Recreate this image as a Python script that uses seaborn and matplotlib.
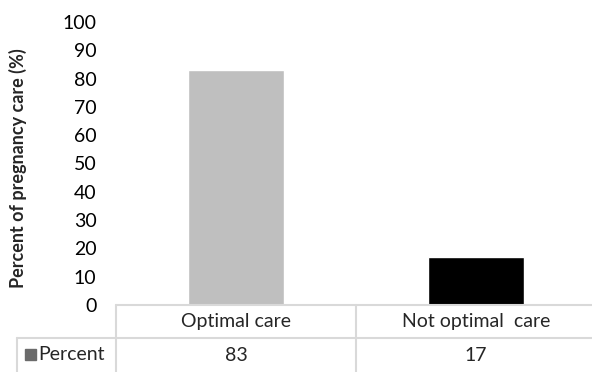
import matplotlib
matplotlib.use("Agg")
import matplotlib.pyplot as plt
from matplotlib.lines import Line2D
from matplotlib.patches import Rectangle
import seaborn as sns
import pandas as pd

# Data
categories = ["Optimal care", "Not optimal  care"]
percent = [83, 17]
bar_colors = ["#BFBFBF", "#000000"]
series_name = "Percent"
y_ticks = [0, 10, 20, 30, 40, 50, 60, 70, 80, 90, 100]

sns.set_theme(style="white")
plt.rcParams["font.family"] = ["Lato", "DejaVu Sans"]

W, H = 592, 372
fig = plt.figure(figsize=(W / 100, H / 100), dpi=100)

# Plot area in pixel units (left, top, right, bottom)
ax_l, ax_t, ax_r, ax_b = 116, 22, 596, 305
ax = fig.add_axes([ax_l / W, 1 - ax_b / H, (ax_r - ax_l) / W, (ax_b - ax_t) / H])

df = pd.DataFrame({"category": categories, "value": percent})
sns.barplot(data=df, x="category", y="value", hue="category",
            palette=bar_colors, width=0.40, legend=False, ax=ax,
            saturation=1)

ax.set_ylim(0, 100)
ax.set_xlim(-0.5, 1.5)
ax.set_yticks(y_ticks)
ax.set_yticklabels([str(t) for t in y_ticks], fontsize=14, color="#000000")
ax.tick_params(axis="y", length=0, pad=14)
ax.set_xticks([])
ax.set_xlabel("")
ax.set_ylabel("")
for s in ax.spines.values():
    s.set_visible(False)

fig.text(18 / W, 1 - 168 / H, "Percent of pregnancy care (%)", rotation=90,
         fontsize=13, fontweight="bold", ha="center", va="center")

# Data table below the plot
line_c = "#D9D9D9"
row1_t, row1_b, row2_b = 305, 338, 373
hdr_l = 17
col_w = (ax_r - ax_l) / len(categories)

def fx(px):
    return px / W

def fy(py):
    return 1 - py / H

def hline(x0, x1, y):
    fig.add_artist(Line2D([fx(x0), fx(x1)], [fy(y), fy(y)], color=line_c, lw=1.5))

def vline(x, y0, y1):
    fig.add_artist(Line2D([fx(x), fx(x)], [fy(y0), fy(y1)], color=line_c, lw=1.5))

hline(ax_l, W, row1_t)
hline(hdr_l, W, row1_b)
vline(hdr_l, row1_b, row2_b)
for i in range(len(categories) + 1):
    vline(ax_l + i * col_w, row1_t, row2_b)

for i, (cat, val) in enumerate(zip(categories, percent)):
    cx = ax_l + (i + 0.5) * col_w
    fig.text(fx(cx), fy((row1_t + row1_b) / 2), cat, fontsize=14,
             ha="center", va="center")
    fig.text(fx(cx), fy((row1_b + row2_b) / 2), str(val), fontsize=14,
             ha="center", va="center")

# Legend key in the header cell
fig.add_artist(Rectangle((fx(25), fy(360)), 11 / W, 11 / H,
                         transform=fig.transFigure, color="#6B6B6B"))
fig.text(fx(38), fy(355), series_name, fontsize=14, ha="left", va="center")

fig.savefig("out.png", dpi=100)
